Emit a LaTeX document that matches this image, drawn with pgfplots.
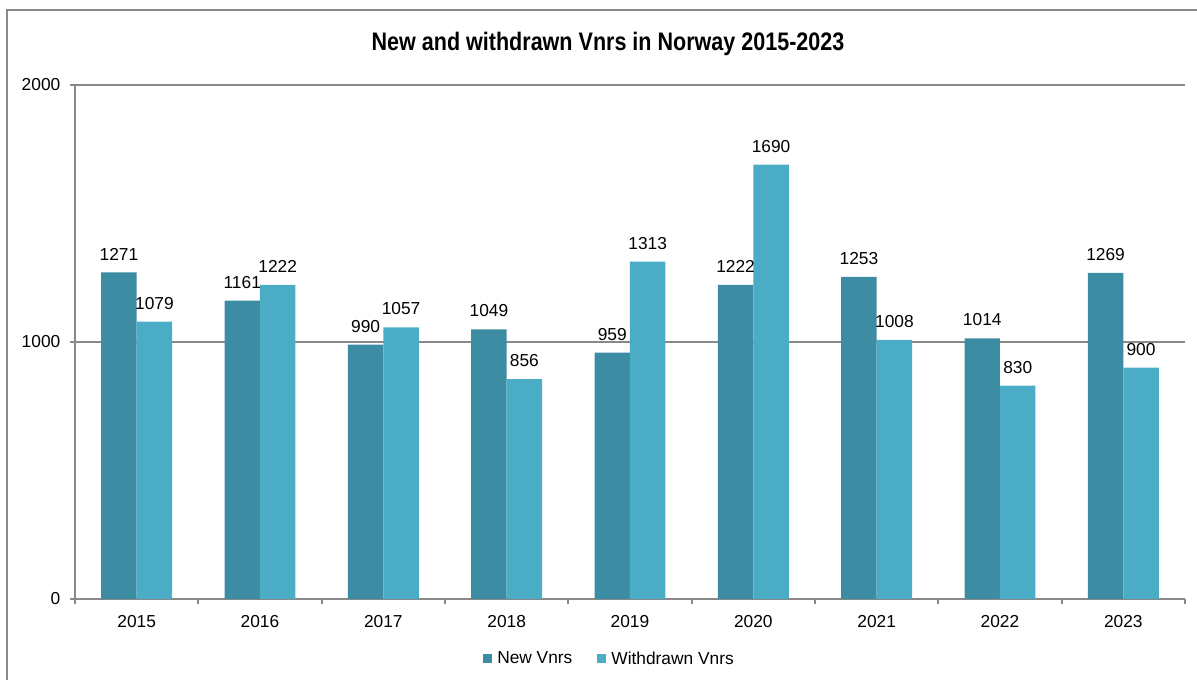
\documentclass[border=0pt]{standalone}
\usepackage{fontspec}
\setmainfont{Liberation Sans}
\newfontfamily\titlefont[FakeStretch=0.85]{Liberation Sans}
\usepackage{pgfplots}
\pgfplotsset{compat=1.18}

\definecolor{newc}{HTML}{3C8CA3}
\definecolor{wdc}{HTML}{4BACC6}
\definecolor{linegray}{HTML}{898989}

\begin{document}
\begin{tikzpicture}
\useasboundingbox (0,0) rectangle (897.75pt,-510pt);
% chart frame (only left and top edges are in view)
\draw[linegray, line width=1.5pt] (5.25pt,-515pt) -- (5.25pt,-7.5pt) -- (905pt,-7.5pt);
\node[font=\titlefont\bfseries\fontsize{19}{21}\selectfont] at (456pt,-33pt)
  {New and withdrawn Vnrs in Norway 2015-2023};
\begin{axis}[
    at={(56.25pt,-449.25pt)}, anchor=south west,
    width=832.5pt, height=385.5pt, scale only axis,
    ybar=0pt, bar width=26.6pt,
    xmin=-0.5, xmax=8.5, ymin=0, ymax=2000,
    xtick={0,...,8},
    xticklabels={2015,2016,2017,2018,2019,2020,2021,2022,2023},
    minor xtick={-0.5,0.5,...,8.5},
    ytick={0,1000,2000},
    axis x line*=bottom, axis y line*=left,
    axis line style={linegray, line width=1.5pt, -},
    ymajorgrids, major grid style={linegray, line width=1.5pt},
    tick align=outside, major tick length=3.75pt, minor tick length=3.75pt,
    tick style={linegray, line width=1.5pt},
    major x tick style={draw=none},
    ticklabel style={font=\fontsize{13}{15}\selectfont},
    xticklabel style={yshift=-5pt},
    yticklabel style={xshift=-3.75pt},
    /pgf/number format/.cd, 1000 sep={}, assume math mode=true, /pgfplots/.cd,
    nodes near coords,
    nodes near coords style={font=\fontsize{13}{15}\selectfont, inner sep=0pt, anchor=south, yshift=9pt},
    legend style={at={(0.4829,-0.1167)}, anchor=center, draw=none,
        legend columns=2, font=\fontsize{13}{15}\selectfont,
        nodes={inner xsep=3.75pt},
        /tikz/every even column/.append style={column sep=15pt}},
    legend image code/.code={\fill[#1] (0pt,-3.375pt) rectangle (6.75pt,3.375pt);},
]
\addplot[fill=newc, draw=none] coordinates {
    (0,1271) (1,1161) (2,990) (3,1049) (4,959) (5,1222) (6,1253) (7,1014) (8,1269)
};
\addplot[fill=wdc, draw=none] coordinates {
    (0,1079) (1,1222) (2,1057) (3,856) (4,1313) (5,1690) (6,1008) (7,830) (8,900)
};
\legend{New Vnrs, Withdrawn Vnrs}
\end{axis}
\end{tikzpicture}
\end{document}
